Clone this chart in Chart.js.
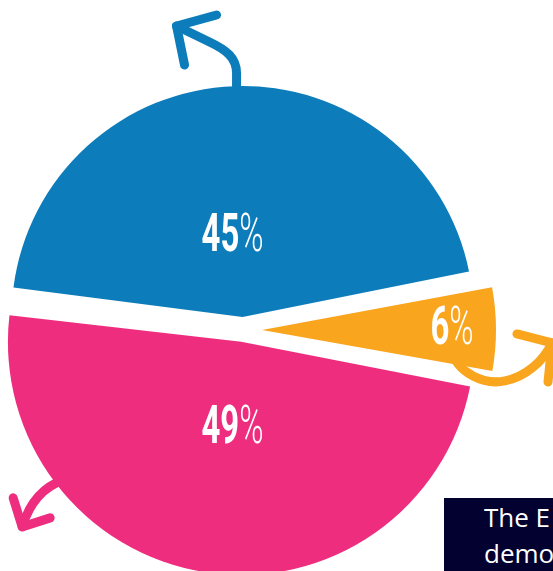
<!DOCTYPE html>
<html>
<head>
<meta charset="utf-8">
<script src="https://cdn.jsdelivr.net/npm/chart.js@4.4.1/dist/chart.umd.min.js"></script>
<style>
  html, body { margin: 0; padding: 0; background: #ffffff; overflow: hidden; width: 553px; height: 571px; }
  #wrap { position: relative; width: 553px; height: 571px; overflow: hidden; }
  #pie { position: absolute; left: 0; top: 0; }
  .note {
    position: absolute; left: 444px; top: 498px; width: 109px; height: 73px;
    box-sizing: border-box; padding: 1px 0 0 40px;
    background: #02012f; color: #ffffff;
    font: 26px/36px "Open Sans", "Liberation Sans", sans-serif;
    white-space: nowrap; overflow: hidden;
  }
</style>
</head>
<body>
<div id="wrap">
  <canvas id="pie" width="553" height="660"></canvas>
  <div class="note">The E<br>demo</div>
</div>
<script>
// Shares of the three groups, clockwise from the top slice
const categories = ['Group A', 'Group B', 'Group C'];
const shares = [45, 6, 49];
const shareLabels = shares.map(v => v + '%');
const sliceColors = ['#0c7cba', '#f9a51e', '#ee2d7f'];

// Label placement: distance from each slice's tip, plus a small nudge
const labelDist = [85, 190, 83];
const labelNudge = [[-7, 0], [0, -4], [4, 0]];

// Curved arrows leaving each slice, as points relative to the slice tip
const arrowShapes = [
  { slice: 0, start: [-6, -228], line: [-6, -244],
    curves: [[[-6, -259], [-16, -267], [-33, -275]]], end: [-66, -291],
    head: [[-26, -302], [-66, -291], [-58, -252]] },
  { slice: 1, start: [188, 18], line: null,
    curves: [[[196, 45], [223, 55], [243, 51]], [[263, 47], [281, 32], [290, 13]]], end: null,
    head: [[255, 4], [290, 13], [286, 52]] },
  { slice: 2, start: [-177, 138], line: null,
    curves: [[[-196, 144], [-211, 159], [-219, 185]]], end: null,
    head: [[-228, 156], [-219, 185], [-191, 176]] }
];

// Where the arc element paints its tip: Chart.js moves each slice by offset / 4
function sliceTip(arc) {
  const p = arc.getProps(['x', 'y', 'startAngle', 'endAngle']);
  const shift = (arc.options.offset || 0) / 4;
  const mid = (p.startAngle + p.endAngle) / 2;
  return { x: p.x + Math.cos(mid) * shift, y: p.y + Math.sin(mid) * shift, mid };
}

const arrowPlugin = {
  id: 'sliceArrows',
  beforeDatasetsDraw(chart) {
    const ctx = chart.ctx;
    const arcs = chart.getDatasetMeta(0).data;
    ctx.save();
    ctx.lineWidth = 9;
    ctx.lineCap = 'round';
    ctx.lineJoin = 'round';
    arrowShapes.forEach(a => {
      const t = sliceTip(arcs[a.slice]);
      const P = pt => [t.x + pt[0], t.y + pt[1]];
      ctx.strokeStyle = sliceColors[a.slice];
      ctx.beginPath();
      ctx.moveTo(...P(a.start));
      if (a.line) ctx.lineTo(...P(a.line));
      a.curves.forEach(c => ctx.bezierCurveTo(...P(c[0]), ...P(c[1]), ...P(c[2])));
      if (a.end) ctx.lineTo(...P(a.end));
      ctx.stroke();
      ctx.beginPath();
      ctx.moveTo(...P(a.head[0]));
      ctx.lineTo(...P(a.head[1]));
      ctx.lineTo(...P(a.head[2]));
      ctx.stroke();
    });
    ctx.restore();
  }
};

const labelPlugin = {
  id: 'shareLabels',
  afterDatasetsDraw(chart) {
    const ctx = chart.ctx;
    const arcs = chart.getDatasetMeta(0).data;
    const squeeze = 0.62;
    const digitFont = 'bold 53px Roboto, "Liberation Sans", sans-serif';
    const pctFont = '300 53px Roboto, "Liberation Sans", sans-serif';
    arcs.forEach((arc, i) => {
      const t = sliceTip(arc);
      const lx = t.x + Math.cos(t.mid) * labelDist[i] + labelNudge[i][0];
      const ly = t.y + Math.sin(t.mid) * labelDist[i] + labelNudge[i][1];
      const digits = shareLabels[i].replace('%', '');
      ctx.save();
      ctx.font = digitFont;
      const wd = ctx.measureText(digits).width;
      ctx.font = pctFont;
      const wp = ctx.measureText('%').width;
      const total = (wd + wp) * squeeze;
      ctx.translate(lx - total / 2, ly + 19);
      ctx.scale(squeeze, 1);
      ctx.fillStyle = '#ffffff';
      ctx.textBaseline = 'alphabetic';
      ctx.textAlign = 'left';
      ctx.font = digitFont;
      ctx.fillText(digits, 0, 0);
      ctx.font = pctFont;
      ctx.fillText('%', wd, 0);
      ctx.restore();
    });
  }
};

new Chart(document.getElementById('pie'), {
  type: 'pie',
  data: {
    labels: categories,
    datasets: [{
      data: shares,
      backgroundColor: sliceColors,
      borderWidth: 0,
      offset: [52, 76, 48]
    }]
  },
  options: {
    responsive: false,
    animation: false,
    events: [],
    radius: 222,
    rotation: -83,
    layout: { padding: { left: 0, right: 67, top: 0, bottom: 0 } },
    plugins: { legend: { display: false }, tooltip: { enabled: false } }
  },
  plugins: [arrowPlugin, labelPlugin]
});
</script>
</body>
</html>
